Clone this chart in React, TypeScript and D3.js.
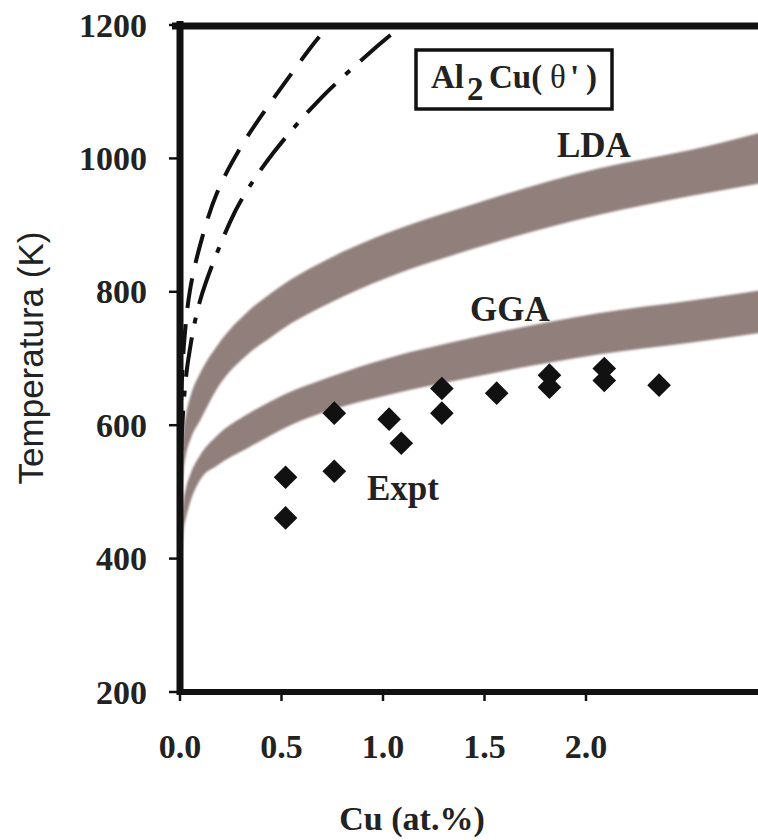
import React from 'react';
import * as d3 from 'd3';

const W = 758;
const H = 840;

const X_TICKS = [0, 0.5, 1.0, 1.5, 2.0];
const X_TICK_LABELS = ['0.0', '0.5', '1.0', '1.5', '2.0'];
const Y_TICKS = [200, 400, 600, 800, 1000, 1200];

// Calculated solvus bands (edges)
const BAND_CU = [0.01, 0.017, 0.029, 0.053, 0.099, 0.185, 0.34, 0.448, 0.544, 0.735, 1.02, 1.44, 2.06, 2.52, 2.94];
const LDA_UPPER = [560, 590, 615, 645, 678, 720, 772, 798, 818, 850, 888, 931, 985, 1013, 1045];
const LDA_LOWER = [500, 530, 555, 580, 607, 656, 708, 732, 752, 783, 821, 864, 915, 944, 967];
const GGA_UPPER = [460, 485, 505, 528, 555, 585, 618, 636, 650, 672, 700, 731, 768, 787, 806];
const GGA_LOWER = [410, 440, 460, 487, 518, 540, 567, 585, 600, 622, 645, 672, 706, 724, 742];

// Dashed and dash-dot curves
const DASH_CU = [0.006, 0.011, 0.023, 0.049, 0.099, 0.182, 0.31, 0.532, 0.68, 0.739, 0.803];
const DASH_T = [638, 678, 734, 802, 870, 948, 1022, 1120, 1180, 1200, 1220];
const DASHDOT_CU = [0.006, 0.011, 0.023, 0.041, 0.099, 0.244, 0.31, 0.459, 0.69, 0.971, 1.099, 1.232];
const DASHDOT_T = [562, 599, 651, 699, 787, 903, 942, 1008, 1089, 1168, 1200, 1231];

// Experimental points
const EXPT_CU = [0.52, 0.52, 0.76, 0.76, 1.03, 1.09, 1.29, 1.29, 1.56, 1.82, 1.82, 2.09, 2.09, 2.36];
const EXPT_T = [522, 461, 618, 531, 609, 573, 655, 618, 648, 675, 657, 685, 667, 660];

const SERIF = '"Liberation Serif", "Times New Roman", serif';
const SANS = '"Liberation Sans", Arial, sans-serif';

export default function App() {
  const x = d3.scaleLinear().domain([0, 3]).range([180, 789]);
  const y = d3.scaleLinear().domain([200, 1200]).range([692, 25]);

  const band = (upper: number[], lower: number[]) =>
    d3
      .area<number>()
      .x((c) => x(c))
      .y0((_, i) => y(lower[i]))
      .y1((_, i) => y(upper[i]))
      .curve(d3.curveMonotoneX)(BAND_CU) || '';

  const line = (cs: number[], ts: number[]) =>
    d3
      .line<number>()
      .x((c) => x(c))
      .y((_, i) => y(ts[i]))
      .curve(d3.curveCatmullRom.alpha(0.5))(cs) || '';

  const diamond = d3.symbol(d3.symbolSquare, 280)() || '';

  const x0 = x(0);
  const yTop = y(1200);
  const yBot = y(200);

  return (
    <svg
      width={W}
      height={H}
      style={{ position: 'absolute', left: 0, top: 0, background: '#fff' }}
    >
      <defs>
        <clipPath id="plot">
          <rect x={x0} y={yTop} width={W - x0} height={yBot - yTop} />
        </clipPath>
        <filter id="soft" x="-5%" y="-5%" width="110%" height="110%">
          <feGaussianBlur stdDeviation="0.9" />
        </filter>
      </defs>
      <rect x={0} y={0} width={W} height={H} fill="#fff" />

      <g clipPath="url(#plot)">
        <path d={band(LDA_UPPER, LDA_LOWER)} fill="#917f7b" filter="url(#soft)" />
        <path d={band(GGA_UPPER, GGA_LOWER)} fill="#917f7b" filter="url(#soft)" />
        <path
          d={line(DASH_CU, DASH_T)}
          fill="none"
          stroke="#111"
          strokeWidth={4}
          strokeDasharray="30 16"
        />
        <path
          d={line(DASHDOT_CU, DASHDOT_T)}
          fill="none"
          stroke="#111"
          strokeWidth={4}
          strokeDasharray="40 14 6 14"
        />
        {EXPT_CU.map((c, i) => (
          <path
            key={i}
            d={diamond}
            transform={`translate(${x(c)},${y(EXPT_T[i])}) rotate(45)`}
            fill="#111"
          />
        ))}
      </g>

      {/* axes frame */}
      <line x1={x0} x2={x0} y1={yTop - 4} y2={yBot + 3} stroke="#111" strokeWidth={7} />
      <line x1={172} x2={W} y1={yTop + 1} y2={yTop + 1} stroke="#111" strokeWidth={7} />
      <line x1={x0 - 3} x2={W} y1={yBot} y2={yBot} stroke="#111" strokeWidth={6} />

      {Y_TICKS.map((t) => (
        <g key={t}>
          <line x1={x0 - 11} x2={x0} y1={y(t)} y2={y(t)} stroke="#111" strokeWidth={2.5} />
          <text
            x={147}
            y={y(t) + 11.5}
            textAnchor="end"
            fontFamily={SERIF}
            fontWeight="bold"
            fontSize={34}
            fill="#222"
          >
            {t}
          </text>
        </g>
      ))}

      {X_TICKS.map((t, i) => (
        <g key={t}>
          <line x1={x(t)} x2={x(t)} y1={yBot} y2={yBot + 9} stroke="#111" strokeWidth={2.5} />
          <text
            x={x(t)}
            y={758}
            textAnchor="middle"
            fontFamily={SERIF}
            fontWeight="bold"
            fontSize={34}
            fill="#222"
          >
            {X_TICK_LABELS[i]}
          </text>
        </g>
      ))}

      <text
        transform={`translate(43, 358) rotate(-90)`}
        textAnchor="middle"
        fontFamily={SANS}
        fontSize={35}
        fill="#222"
      >
        Temperatura (K)
      </text>

      <text
        x={412}
        y={830}
        textAnchor="middle"
        fontFamily={SERIF}
        fontWeight="bold"
        fontSize={34}
        fill="#222"
      >
        Cu (at.%)
      </text>

      {/* legend box */}
      <rect x={416} y={50} width={196} height={59} fill="#fff" stroke="#111" strokeWidth={3.5} />
      <text y={88} fontFamily={SERIF} fontWeight="bold" fontSize={33} fill="#222">
        <tspan x={431}>Al</tspan>
        <tspan x={467} dy={12}>2</tspan>
        <tspan x={489} dy={-12}>Cu(</tspan>
        <tspan x={550} fontWeight="normal">θ</tspan>
        <tspan x={570}>'</tspan>
        <tspan x={586}>)</tspan>
      </text>

      <text x={557} y={157} fontFamily={SERIF} fontWeight="bold" fontSize={35} fill="#222">
        LDA
      </text>
      <text x={470} y={321} fontFamily={SERIF} fontWeight="bold" fontSize={35} fill="#222">
        GGA
      </text>
      <text x={367} y={500} fontFamily={SERIF} fontWeight="bold" fontSize={35} fill="#222">
        Expt
      </text>
    </svg>
  );
}
